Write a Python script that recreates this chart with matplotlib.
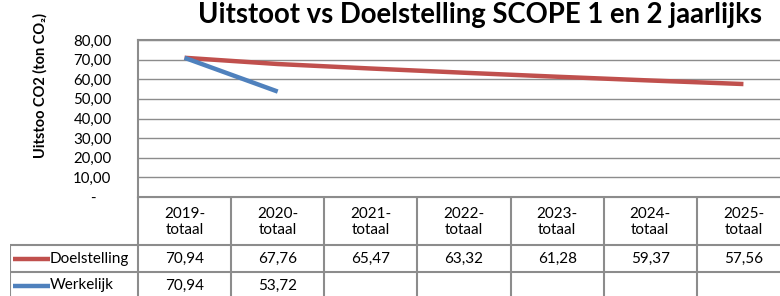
import matplotlib
matplotlib.use("Agg")
import matplotlib.pyplot as plt

plt.rcParams['font.family'] = ['Lato', 'DejaVu Sans']

categories = ["2019-\ntotaal", "2020-\ntotaal", "2021-\ntotaal", "2022-\ntotaal",
              "2023-\ntotaal", "2024-\ntotaal", "2025-\ntotaal"]
doelstelling = [70.94, 67.76, 65.47, 63.32, 61.28, 59.37, 57.56]
werkelijk = [70.94, 53.72]
series_names = ["Doelstelling", "Werkelijk"]
yticks = [0, 10, 20, 30, 40, 50, 60, 70, 80]
ytick_labels = ["-    ", "10,00", "20,00", "30,00", "40,00", "50,00", "60,00", "70,00", "80,00"]

RED = "#C0504D"
BLUE = "#4F81BD"
GRID = "#8C8C8C"

W, H = 780, 296
fig = plt.figure(figsize=(W / 100, H / 100), dpi=100)

# pixel layout
px_left, px_right = 138, 790
px_top, px_bottom = 40, 197
colw = (px_right - px_left) / len(categories)

ax = fig.add_axes([px_left / W, (H - px_bottom) / H,
                   (px_right - px_left) / W, (px_bottom - px_top) / H])
n = len(categories)
x = list(range(n))
ax.plot(x, doelstelling, color=RED, lw=3.2, solid_capstyle='butt', zorder=3)
ax.plot(x[:len(werkelijk)], werkelijk, color=BLUE, lw=3.2, solid_capstyle='butt', zorder=3)
ax.set_xlim(-0.5, n - 0.5)
ax.set_ylim(0, 80)
ax.set_yticks(yticks)
ax.set_yticklabels(ytick_labels, fontsize=10.8)
ax.set_xticks([])
ax.tick_params(axis='y', length=0, pad=19)
ax.yaxis.grid(True, color=GRID, lw=1)
ax.set_axisbelow(True)
for s in ax.spines.values():
    s.set_color(GRID)
    s.set_linewidth(1.5)

# title and y label
fig.text(480 / W, 1 - 2 / H, "Uitstoot vs Doelstelling SCOPE 1 en 2 jaarlijks",
         ha='center', va='top', fontsize=19.8, fontweight='bold')
fig.text(40 / W, 1 - 85 / H, "Uitstoo CO2 (ton CO\u2082)", rotation=90,
         ha='center', va='center', fontsize=10.5, fontweight='bold')

# data table
tx0 = 10
row_edges = [197, 245, 272, 299]
tab = fig.add_axes([tx0 / W, (H - row_edges[-1]) / H,
                    (px_right - tx0) / W, (row_edges[-1] - row_edges[0]) / H])
legw = (px_left - tx0) / colw
tab.set_xlim(-0.5 - legw, n - 0.5)
tab.set_ylim(row_edges[-1], row_edges[0])
tab.axis('off')
lc = dict(color=GRID, lw=1.5, solid_capstyle='butt')
tab.plot([-0.5, n - 0.5], [row_edges[0]] * 2, **lc)
for yy in row_edges[1:3]:
    tab.plot([-0.5 - legw, n - 0.5], [yy] * 2, **lc)
tab.plot([-0.5 - legw] * 2, [row_edges[1], row_edges[-1]], **lc)
for i in range(n):
    tab.plot([i - 0.5] * 2, [row_edges[0], row_edges[-1]], **lc)
for i, c in enumerate(categories):
    tab.text(i, (row_edges[0] + row_edges[1]) / 2 + 1, c, ha='center', va='center',
             fontsize=11, linespacing=1.2)

def fmt(v):
    return f"{v:.2f}".replace('.', ',')

for r, (name, vals, col) in enumerate(zip(series_names, [doelstelling, werkelijk], [RED, BLUE])):
    yc = (row_edges[r + 1] + row_edges[r + 2]) / 2
    for i, v in enumerate(vals):
        tab.text(i, yc, fmt(v), ha='center', va='center', fontsize=11)
    x_l0 = -0.5 - legw + 3 / colw
    x_l1 = -0.5 - legw + 40 / colw
    tab.plot([x_l0, x_l1], [yc, yc], color=col, lw=3.2, solid_capstyle='butt')
    tab.text(x_l1, yc, name, ha='left', va='center', fontsize=11)

fig.savefig("out.png", dpi=100)
